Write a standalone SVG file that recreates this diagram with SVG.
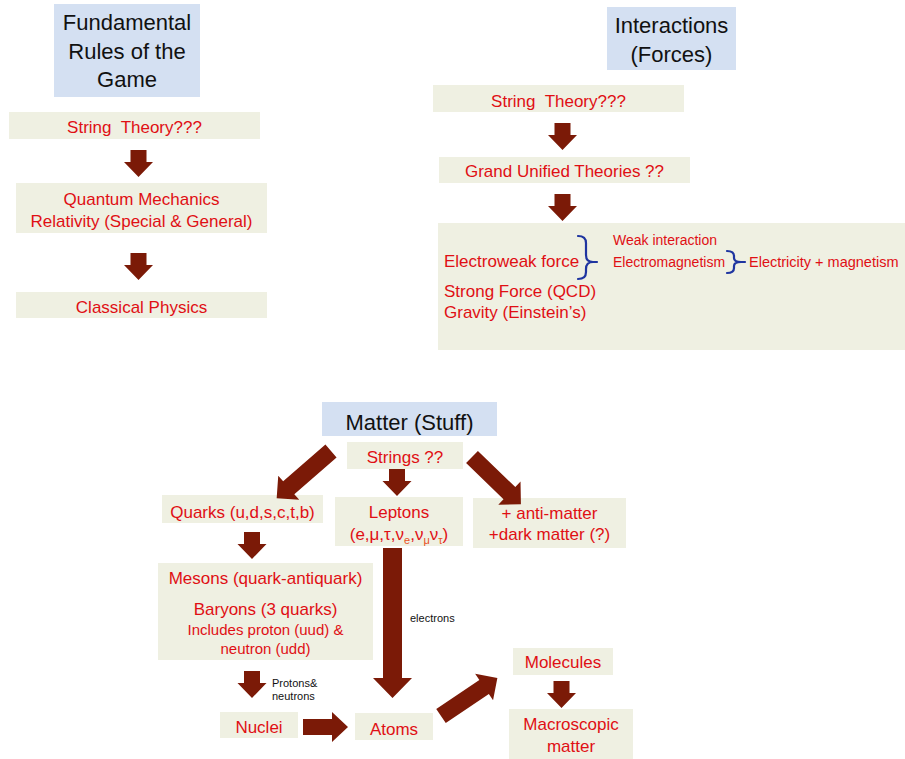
<svg xmlns="http://www.w3.org/2000/svg" width="905" height="759" viewBox="0 0 905 759">
<style>
.box{fill:#eff0e2}
.title{fill:#d4e0f2}
.t{font-family:"Liberation Sans",Arial,sans-serif;font-size:17px;fill:#e00f14;text-anchor:middle}
.ts{font-family:"Liberation Sans",Arial,sans-serif;font-size:17px;fill:#e00f14}
.sm{font-family:"Liberation Sans",Arial,sans-serif;font-size:14px;fill:#e00f14}
.h{font-family:"Liberation Sans",Arial,sans-serif;font-size:22px;fill:#111;text-anchor:middle}
.lbl{font-family:"Liberation Sans",Arial,sans-serif;font-size:11px;fill:#111}
.arr{fill:#7b1a07}
.brace{fill:none;stroke:#1f35a0;stroke-width:2.2;stroke-linecap:round;stroke-linejoin:round}
.sub{font-size:11px;fill:#e8501e}
</style>
<defs>
<path id="dn" d="M-8,0 H8 V12 H14.5 L0,27 L-14.5,12 H-8 Z"/>
</defs>
<rect width="905" height="759" fill="#ffffff"/>

<!-- Left column -->
<g id="rules-title">
<rect class="title" x="54" y="4" width="146" height="93"/>
<text class="h" x="127" y="30">Fundamental</text>
<text class="h" x="127" y="58.5">Rules of the</text>
<text class="h" x="127" y="87">Game</text>
</g>
<g id="string-theory-left">
<rect class="box" x="9" y="112" width="251" height="27"/>
<text class="t" x="134.5" y="132.5" xml:space="preserve">String  Theory???</text>
</g>
<g id="qm-relativity">
<rect class="box" x="16" y="183" width="251" height="50"/>
<text class="t" x="141.5" y="205">Quantum Mechanics</text>
<text class="t" x="141.5" y="227">Relativity (Special &amp; General)</text>
</g>
<g id="classical">
<rect class="box" x="16" y="292" width="251" height="26"/>
<text class="t" x="141.5" y="313">Classical Physics</text>
</g>

<!-- Right column -->
<g id="interactions-title">
<rect class="title" x="607" y="7" width="129" height="63"/>
<text class="h" x="671.5" y="33">Interactions</text>
<text class="h" x="671.5" y="62">(Forces)</text>
</g>
<g id="string-theory-right">
<rect class="box" x="433" y="85" width="251" height="27"/>
<text class="t" x="558.5" y="106.5" xml:space="preserve">String  Theory???</text>
</g>
<g id="gut">
<rect class="box" x="439" y="157" width="251" height="26"/>
<text class="t" x="564.5" y="177">Grand Unified Theories ??</text>
</g>
<g id="forces">
<rect class="box" x="438" y="223" width="467" height="127"/>
<text class="ts" x="444" y="267">Electroweak force</text>
<text class="ts" x="444" y="297">Strong Force (QCD)</text>
<text class="ts" x="444" y="318">Gravity (Einstein’s)</text>
<text class="sm" x="613" y="245">Weak interaction</text>
<text class="sm" x="613" y="267">Electromagnetism</text>
<text class="sm" x="749" y="267" style="font-size:14.5px">Electricity + magnetism</text>
<path class="brace" d="M578,236 Q586,236 586,243 L586,255 Q586,262 593,262 M586,262 M593,262 Q586,262 586,269 L586,272 Q586,279 578,279 M593,262 H597"/>
<path class="brace" d="M727,251 Q734,251 734,256 L734,258 Q734,262 741,262 Q734,262 734,266 L734,268 Q734,273 727,273 M741,262 H745"/>
</g>

<!-- Matter section -->
<g id="matter-title">
<rect class="title" x="322" y="402" width="175" height="34"/>
<text class="h" x="409.5" y="430">Matter (Stuff)</text>
</g>
<g id="strings">
<rect class="box" x="347" y="442" width="116" height="27"/>
<text class="t" x="405" y="463">Strings ??</text>
</g>
<g id="quarks">
<rect class="box" x="162" y="495" width="161" height="28"/>
<text class="t" x="242.5" y="518">Quarks (u,d,s,c,t,b)</text>
</g>
<g id="leptons">
<rect class="box" x="335" y="497" width="128" height="49"/>
<text class="t" x="399" y="518">Leptons</text>
<text class="t" x="399" y="540">(e,μ,τ,ν<tspan class="sub" dy="4">e</tspan><tspan dy="-4">,ν</tspan><tspan class="sub" dy="4">μ</tspan><tspan dy="-4">ν</tspan><tspan class="sub" dy="4">τ</tspan><tspan dy="-4">)</tspan></text>
</g>
<g id="antimatter">
<rect class="box" x="473" y="498" width="153" height="50"/>
<text class="t" x="549.5" y="519">+ anti-matter</text>
<text class="t" x="549.5" y="540">+dark matter (?)</text>
</g>
<g id="hadrons">
<rect class="box" x="158" y="563" width="215" height="97"/>
<text class="t" x="265.5" y="584">Mesons (quark-antiquark)</text>
<text class="t" x="265.5" y="615">Baryons (3 quarks)</text>
<text class="t" x="265.5" y="635" style="font-size:15px">Includes proton (uud) &amp;</text>
<text class="t" x="265.5" y="654" style="font-size:15px">neutron (udd)</text>
</g>
<g id="nuclei">
<rect class="box" x="220" y="712" width="78" height="26"/>
<text class="t" x="259" y="733">Nuclei</text>
</g>
<g id="atoms">
<rect class="box" x="355" y="713" width="78" height="27"/>
<text class="t" x="394" y="735">Atoms</text>
</g>
<g id="molecules">
<rect class="box" x="513" y="648" width="100" height="27"/>
<text class="t" x="563" y="668">Molecules</text>
</g>
<g id="macroscopic">
<rect class="box" x="509" y="709" width="124" height="50"/>
<text class="t" x="571" y="730">Macroscopic</text>
<text class="t" x="571" y="752">matter</text>
</g>

<g id="connectors">
<use href="#dn" class="arr" x="138.5" y="150"/>
<use href="#dn" class="arr" x="138.5" y="253"/>
<use href="#dn" class="arr" x="562.5" y="123"/>
<use href="#dn" class="arr" x="562.5" y="194"/>
<use href="#dn" class="arr" x="397" y="469"/>
<use href="#dn" class="arr" x="252" y="532"/>
<use href="#dn" class="arr" x="252" y="671"/>
<use href="#dn" class="arr" x="561.5" y="681"/>
<path class="arr" d="M383,548 H402 V678 H412 L392.5,698 L373,678 H383 Z"/>
<path class="arr" d="M303,719 H332 V712 L348,727 L332,742 V735 H303 Z"/>
<path class="arr" transform="translate(331,451) rotate(139)" d="M0,-8.5 H56 V-16 L72,0 L56,16 V8.5 H0 Z"/>
<path class="arr" transform="translate(472,457) rotate(44)" d="M0,-8.5 H52 V-16 L68,0 L52,16 V8.5 H0 Z"/>
<path class="arr" transform="translate(441,716) rotate(-34)" d="M0,-8.5 H52 V-16 L68,0 L52,16 V8.5 H0 Z"/>
<text class="lbl" x="272" y="687">Protons&amp;</text>
<text class="lbl" x="272" y="700">neutrons</text>
<text class="lbl" x="410" y="622">electrons</text>
</g>
</svg>
